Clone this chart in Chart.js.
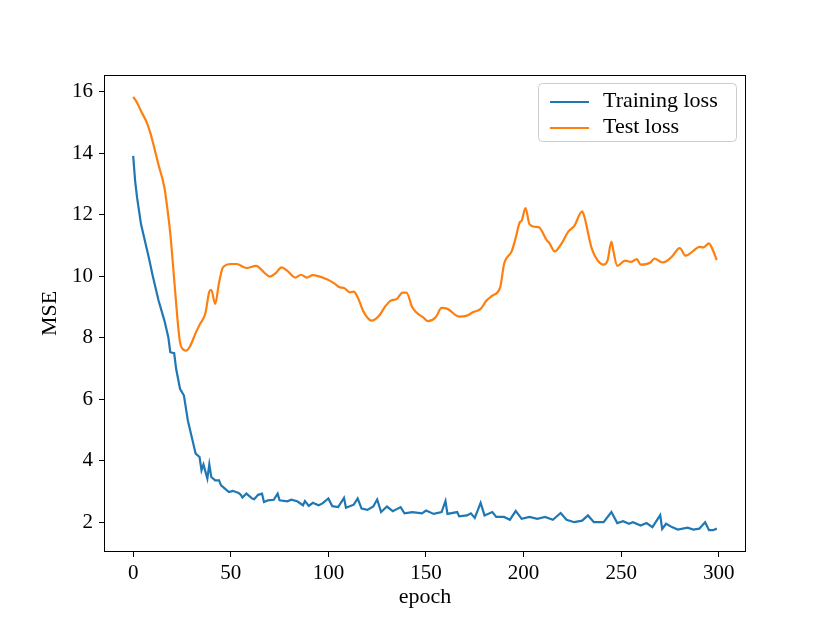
<!DOCTYPE html>
<html>
<head>
<meta charset="utf-8">
<script src="https://cdn.jsdelivr.net/npm/chart.js@4/dist/chart.umd.min.js"></script>
<style>
  body { margin: 0; background: #fff; }
  #wrap { width: 830px; height: 623px; }
</style>
</head>
<body>
<div id="wrap"><canvas id="myChart" width="830" height="623"></canvas></div>
<script>
// values
const trainEpochs = [0,1,2,4,8,10,13,16,18,19,21,22,24,26,28,30,32,34,35,36,38,39,40,42,44,45,47,49,51,54,55,56,58,61,62,64,66,67,69,72,74,75,79,81,84,87,88,90,92,95,97,100,102,105,108,109,113,115,117,120,123,125,127,130,133,137,139,143,148,150,154,158,160,161,166,167,171,173,175,178,180,184,186,190,193,196,199,203,207,211,215,219,222,226,230,233,236,241,245,248,251,254,256,260,263,266,270,271,273,276,279,284,287,290,293,295,297,299];
const trainLoss = [13.92,13.1,12.56,11.7,10.61,10.02,9.21,8.56,8.02,7.53,7.5,6.99,6.34,6.12,5.31,4.77,4.23,4.12,3.69,3.88,3.42,3.88,3.47,3.36,3.36,3.2,3.09,2.98,3.02,2.95,2.9,2.8,2.93,2.77,2.75,2.89,2.93,2.66,2.71,2.73,2.93,2.71,2.68,2.73,2.68,2.55,2.69,2.53,2.63,2.55,2.61,2.77,2.52,2.49,2.79,2.47,2.57,2.77,2.44,2.40,2.51,2.74,2.33,2.51,2.36,2.49,2.29,2.33,2.29,2.38,2.27,2.33,2.69,2.27,2.33,2.19,2.22,2.29,2.14,2.63,2.22,2.33,2.17,2.17,2.08,2.37,2.11,2.17,2.11,2.17,2.08,2.30,2.08,2.00,2.05,2.22,2.00,2.00,2.33,1.97,2.03,1.95,2.00,1.89,1.97,1.84,2.23,1.78,1.95,1.84,1.76,1.82,1.76,1.79,2.00,1.74,1.74,1.79];

const testEpochs = [0,2,4,7,9,11,13,16,17,19,21,23,24,26,27,29,32,34,37,39,40,42,44,46,50,53,58,63,67,70,73,76,79,83,86,89,92,99,103,106,108,111,113,115,118,122,126,129,132,135,138,140,143,145,149,151,155,158,161,167,171,174,178,181,184,188,190,191,194,196,198,199,201,203,206,208,212,213,216,219,223,226,230,231,235,238,241,243,245,246,248,252,255,258,260,265,267,271,273,276,280,283,287,290,292,295,296,299];
const testLoss = [15.84,15.65,15.38,15.0,14.62,14.13,13.62,12.89,12.45,11.4,9.9,8.4,7.85,7.6,7.58,7.71,8.15,8.42,8.8,9.5,9.56,9.1,9.8,10.29,10.4,10.4,10.27,10.34,10.13,9.99,10.1,10.29,10.18,9.96,10.05,9.96,10.04,9.91,9.77,9.64,9.62,9.48,9.5,9.32,8.85,8.56,8.72,9.01,9.21,9.26,9.47,9.47,8.99,8.83,8.64,8.54,8.67,8.97,8.94,8.69,8.72,8.83,8.94,9.21,9.37,9.64,10.4,10.56,10.83,11.26,11.75,11.81,12.22,11.7,11.61,11.59,11.16,11.1,10.81,11.02,11.46,11.64,12.11,11.97,10.89,10.51,10.38,10.51,11.13,10.83,10.34,10.51,10.47,10.56,10.38,10.45,10.58,10.45,10.48,10.64,10.92,10.67,10.83,10.96,10.94,11.07,10.99,10.53];

const xTicks = [0,50,100,150,200,250,300];
const yTicks = [2,4,6,8,10,12,14,16];

const serif = "'Liberation Serif', 'Times New Roman', serif";

function toPoints(xs, ys){
	let pts = [];
	for(let i=0; i<xs.length; i++){
		pts.push({x: xs[i], y: ys[i]});
	}
	return pts;
}

// matplotlib-like frame around the plot and legend in the upper right
const framePlugin = {
	id: 'frame',
	afterDraw(chart){
		const ctx = chart.ctx;
		const a = chart.chartArea;
		ctx.save();
		ctx.strokeStyle = '#000';
		ctx.lineWidth = 1;
		ctx.strokeRect(Math.round(a.left)+0.5, Math.round(a.top)+0.5, Math.round(a.right-a.left)-1, Math.round(a.bottom-a.top)-1);

		// legend
		const w = 198, h = 58;
		const lx = a.right - 10 - w, ly = a.top + 8;
		ctx.beginPath();
		ctx.roundRect(lx+0.5, ly+0.5, w, h, 4);
		ctx.fillStyle = 'rgba(255,255,255,0.8)';
		ctx.fill();
		ctx.strokeStyle = '#cccccc';
		ctx.stroke();
		ctx.font = '22px ' + serif;
		ctx.textBaseline = 'middle';
		chart.data.datasets.forEach((ds, i) => {
			const y = ly + 19 + i*26;
			ctx.beginPath();
			ctx.strokeStyle = ds.borderColor;
			ctx.lineWidth = 2;
			ctx.moveTo(lx + 12, y);
			ctx.lineTo(lx + 51, y);
			ctx.stroke();
			ctx.fillStyle = '#000';
			ctx.fillText(ds.label, lx + 65, y - 1);
		});
		ctx.restore();
	}
};

var ctx = document.getElementById("myChart");

var myChart = new Chart(ctx, {
	type: 'line',
	data: {
		datasets: [{
			label: 'Training loss',
			data: toPoints(trainEpochs, trainLoss),
			borderColor: '#1f77b4',
			borderWidth: 2.2,
			pointRadius: 0,
			tension: 0,
			fill: false
		}, {
			label: 'Test loss',
			data: toPoints(testEpochs, testLoss),
			borderColor: '#ff7f0e',
			borderWidth: 2.2,
			pointRadius: 0,
			cubicInterpolationMode: 'monotone',
			fill: false
		}]
	},
	options: {
		responsive: false,
		animation: false,
		devicePixelRatio: 1,
		layout: { padding: { top: 75, right: 84, left: 0, bottom: 0 } },
		plugins: {
			legend: { display: false },
			tooltip: { enabled: false }
		},
		scales: {
			x: {
				type: 'linear',
				min: -14.95,
				max: 313.95,
				afterBuildTicks: (scale) => { scale.ticks = xTicks.map(v => ({value: v})); },
				afterFit: (scale) => { scale.height = 71; },
				grid: { drawOnChartArea: false, tickLength: 5, tickColor: '#000', tickWidth: 1 },
				border: { display: false },
				ticks: { color: '#000', padding: 4, maxRotation: 0, font: { family: serif, size: 21 } },
				title: { display: true, text: 'epoch', color: '#000', padding: { top: 0, bottom: 13 }, font: { family: serif, size: 22 } }
			},
			y: {
				type: 'linear',
				min: 1.03,
				max: 16.55,
				afterBuildTicks: (scale) => { scale.ticks = yTicks.map(v => ({value: v})); },
				afterFit: (scale) => { scale.width = 104; },
				grid: { drawOnChartArea: false, tickLength: 5, tickColor: '#000', tickWidth: 1 },
				border: { display: false },
				ticks: { color: '#000', padding: 6, font: { family: serif, size: 21 } },
				title: { display: true, text: 'MSE', color: '#000', padding: { top: 37, bottom: 0 }, font: { family: serif, size: 22 } }
			}
		}
	},
	plugins: [framePlugin]
});
</script>
</body>
</html>
